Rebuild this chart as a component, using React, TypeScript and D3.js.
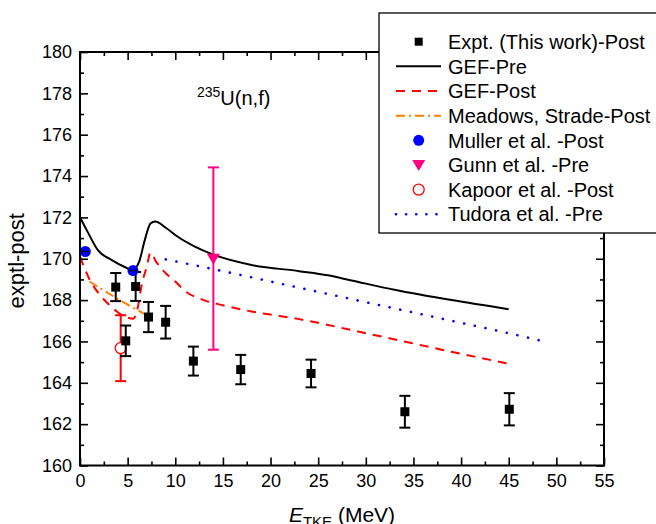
import React, { useEffect, useRef } from "react";
import * as d3 from "d3";

// experiment (this work), post-neutron
const exptX = [3.75, 4.8, 5.84, 7.19, 8.99, 11.9, 16.87, 24.25, 34.1, 45.06];
const exptY = [168.63, 166.03, 168.66, 167.18, 166.93, 165.05, 164.64, 164.45, 162.6, 162.72];
const exptErr = [0.68, 0.74, 0.7, 0.73, 0.79, 0.7, 0.71, 0.67, 0.77, 0.78];

// GEF pre-neutron
const gefPreX = [0, 0.8, 1.9, 3.3, 4.7, 5.5, 6.2, 6.8, 7.4, 7.9, 9, 10.3, 12, 14, 18, 23, 26, 28.5, 33, 39, 45];
const gefPreY = [172.0, 171.3, 170.4, 169.95, 169.6, 169.45, 169.85, 170.9, 171.7, 171.8, 171.5, 171.05, 170.6, 170.2, 169.7, 169.4, 169.2, 168.95, 168.5, 168.0, 167.56];

// GEF post-neutron
const gefPostX = [0, 1, 2, 3, 4, 5, 5.6, 6.0, 6.5, 7.0, 7.4, 8.0, 9, 10, 11, 13, 15, 18, 20, 23, 25, 28, 30, 35, 40, 45];
const gefPostY = [170.1, 169.0, 168.3, 167.8, 167.4, 167.15, 167.1, 167.5, 168.8, 169.6, 170.3, 169.85, 169.3, 168.9, 168.45, 168.0, 167.75, 167.45, 167.3, 167.08, 166.9, 166.6, 166.4, 165.9, 165.4, 164.92];

// Meadows, Strade post-neutron
const meadowsX = [1.0, 4.0, 7.55];
const meadowsY = [168.9, 168.05, 167.13];

// Tudora et al. pre-neutron
const tudoraX = [9, 15, 20, 25, 30, 35, 40, 45, 49];
const tudoraY = [169.97, 169.4, 168.9, 168.4, 167.9, 167.4, 166.9, 166.4, 165.97];

// Muller et al. post
const mullerX = [0.56, 5.56];
const mullerY = [170.35, 169.43];

// Gunn et al. pre
const gunnX = [14.0];
const gunnY = [170.0];
const gunnLo = [165.6];
const gunnHi = [174.42];

// Kapoor et al. post
const kapoorX = [4.27];
const kapoorY = [165.68];
const kapoorLo = [164.08];
const kapoorHi = [167.27];

const xMajor = d3.range(0, 56, 5);
const xMinor = d3.range(2.5, 55, 5);
const yMajor = d3.range(160, 181, 2);
const yMinor = d3.range(161, 180, 2);

const legendItems = [
  "Expt. (This work)-Post",
  "GEF-Pre",
  "GEF-Post",
  "Meadows, Strade-Post",
  "Muller et al. -Post",
  "Gunn et al. -Pre",
  "Kapoor et al. -Post",
  "Tudora et al. -Pre",
];

const FONT = "'Liberation Sans', Arial, Helvetica, sans-serif";

const Chart = () => {
  const svgRef = useRef(null);

  useEffect(() => {
    const width = 656;
    const height = 524;
    const left = 80, right = 604, top = 52, bottom = 465.5;

    const svg = d3.select(svgRef.current);
    svg.selectAll("*").remove();
    svg.attr("width", width).attr("height", height).style("font-family", FONT);

    const x = d3.scaleLinear().domain([0, 55]).range([left, right]);
    const y = d3.scaleLinear().domain([160, 180]).range([bottom, top]);

    const zip = (xs, ys) => xs.map((v, i) => [v, ys[i]]);

    const line = d3
      .line()
      .x((d) => x(d[0]))
      .y((d) => y(d[1]))
      .curve(d3.curveMonotoneX);

    // curves
    svg.append("path")
      .datum(zip(meadowsX, meadowsY))
      .attr("d", line)
      .attr("fill", "none")
      .attr("stroke", "#FF8000")
      .attr("stroke-width", 2)
      .attr("stroke-dasharray", "9,4,2,4");

    svg.append("path")
      .datum(zip(tudoraX, tudoraY))
      .attr("d", line)
      .attr("fill", "none")
      .attr("stroke", "#0000FF")
      .attr("stroke-width", 2.6)
      .attr("stroke-linecap", "round")
      .attr("stroke-dasharray", "0.1,10.8");

    svg.append("path")
      .datum(zip(gefPostX, gefPostY))
      .attr("d", line)
      .attr("fill", "none")
      .attr("stroke", "#FF0000")
      .attr("stroke-width", 2)
      .attr("stroke-dasharray", "9,7");

    svg.append("path")
      .datum(zip(gefPreX, gefPreY))
      .attr("d", line)
      .attr("fill", "none")
      .attr("stroke", "#000")
      .attr("stroke-width", 2);

    // error bar helper
    const vbar = (g, cx, lo, hi, color, cap) => {
      g.append("line").attr("x1", cx).attr("x2", cx).attr("y1", lo).attr("y2", hi)
        .attr("stroke", color).attr("stroke-width", 2);
      [lo, hi].forEach((yy) =>
        g.append("line").attr("x1", cx - cap).attr("x2", cx + cap).attr("y1", yy).attr("y2", yy)
          .attr("stroke", color).attr("stroke-width", 2)
      );
    };

    // Gunn
    const gg = svg.append("g");
    gunnX.forEach((gx, i) => {
      vbar(gg, x(gx), y(gunnLo[i]), y(gunnHi[i]), "#FF0080", 5.5);
      const cx = x(gx), cy = y(gunnY[i]);
      gg.append("path")
        .attr("d", `M${cx - 6.5},${cy - 5} L${cx + 6.5},${cy - 5} L${cx},${cy + 6} Z`)
        .attr("fill", "#FF0080");
    });

    // Kapoor
    const kg = svg.append("g");
    kapoorX.forEach((kx, i) => {
      vbar(kg, x(kx), y(kapoorLo[i]), y(kapoorHi[i]), "#FF0000", 5.5);
      kg.append("circle").attr("cx", x(kx)).attr("cy", y(kapoorY[i])).attr("r", 5.5)
        .attr("fill", "#fff").attr("stroke", "#FF0000").attr("stroke-width", 1.3);
    });

    // Expt
    const eg = svg.append("g");
    exptX.forEach((ex, i) => {
      vbar(eg, x(ex), y(exptY[i] - exptErr[i]), y(exptY[i] + exptErr[i]), "#000", 5.5);
      eg.append("rect").attr("x", x(ex) - 4.5).attr("y", y(exptY[i]) - 4.5)
        .attr("width", 9).attr("height", 9).attr("fill", "#000");
    });

    // Muller
    const mg = svg.append("g");
    mullerX.forEach((mx, i) => {
      const cx = x(mx), cy = y(mullerY[i]);
      mg.append("circle").attr("cx", cx).attr("cy", cy).attr("r", 5.5).attr("fill", "#0000FF");
      mg.append("line").attr("x1", cx - 3).attr("x2", cx + 3).attr("y1", cy).attr("y2", cy)
        .attr("stroke", "#000").attr("stroke-width", 1);
      [cx - 3, cx + 3].forEach((xx) =>
        mg.append("line").attr("x1", xx).attr("x2", xx).attr("y1", cy - 2).attr("y2", cy + 2)
          .attr("stroke", "#000").attr("stroke-width", 1)
      );
    });

    // axes
    const styleAxis = (g) => {
      g.select(".domain").remove();
      g.selectAll("line").attr("stroke", "#000").attr("stroke-width", 1.6);
      g.selectAll("text").attr("font-family", FONT).attr("font-size", 18).attr("fill", "#000");
    };

    svg.append("g").attr("transform", `translate(0,${bottom})`)
      .call(d3.axisBottom(x).tickValues(xMajor).tickSizeInner(-8).tickSizeOuter(0).tickPadding(9))
      .call(styleAxis);
    svg.append("g").attr("transform", `translate(0,${bottom})`)
      .call(d3.axisBottom(x).tickValues(xMinor).tickSizeInner(-4).tickSizeOuter(0).tickFormat(() => ""))
      .call(styleAxis);
    svg.append("g").attr("transform", `translate(0,${top})`)
      .call(d3.axisTop(x).tickValues(xMajor).tickSizeInner(-8).tickSizeOuter(0).tickFormat(() => ""))
      .call(styleAxis);
    svg.append("g").attr("transform", `translate(0,${top})`)
      .call(d3.axisTop(x).tickValues(xMinor).tickSizeInner(-4).tickSizeOuter(0).tickFormat(() => ""))
      .call(styleAxis);
    svg.append("g").attr("transform", `translate(${left},0)`)
      .call(d3.axisLeft(y).tickValues(yMajor).tickSizeInner(-8).tickSizeOuter(0).tickPadding(8))
      .call(styleAxis);
    svg.append("g").attr("transform", `translate(${left},0)`)
      .call(d3.axisLeft(y).tickValues(yMinor).tickSizeInner(-4).tickSizeOuter(0).tickFormat(() => ""))
      .call(styleAxis);
    svg.append("g").attr("transform", `translate(${right},0)`)
      .call(d3.axisRight(y).tickValues(yMajor).tickSizeInner(-8).tickSizeOuter(0).tickFormat(() => ""))
      .call(styleAxis);
    svg.append("g").attr("transform", `translate(${right},0)`)
      .call(d3.axisRight(y).tickValues(yMinor).tickSizeInner(-4).tickSizeOuter(0).tickFormat(() => ""))
      .call(styleAxis);

    svg.append("rect")
      .attr("x", left).attr("y", top)
      .attr("width", right - left).attr("height", bottom - top)
      .attr("fill", "none").attr("stroke", "#000").attr("stroke-width", 2);

    // axis titles
    svg.append("text")
      .attr("transform", `translate(23.5,${(top + bottom) / 2 + 2}) rotate(-90)`)
      .attr("text-anchor", "middle")
      .attr("font-size", 22)
      .text("exptl-post");

    const xt = svg.append("text")
      .attr("x", (left + right) / 2)
      .attr("y", 522)
      .attr("text-anchor", "middle")
      .attr("font-size", 21);
    xt.append("tspan").attr("font-style", "italic").text("E");
    xt.append("tspan").attr("font-size", 15).attr("dy", 5).text("TKE");
    xt.append("tspan").attr("dy", -5).text(" (MeV)");

    // annotation
    const an = svg.append("text").attr("x", 197).attr("y", 105).attr("font-size", 20);
    an.append("tspan").attr("font-size", 14).attr("dy", -8).text("235");
    an.append("tspan").attr("dy", 8).text("U(n,f)");

    // legend
    const lg = svg.append("g");
    lg.append("rect")
      .attr("x", 379).attr("y", 13).attr("width", 300).attr("height", 220)
      .attr("fill", "#fff").attr("stroke", "#000").attr("stroke-width", 1.3);

    const ly = (i) => 41.7 + i * 24.65;
    const lx0 = 396, lx1 = 441, lmx = 418.7;

    legendItems.forEach((t, i) => {
      lg.append("text").attr("x", 448).attr("y", ly(i)).attr("dy", "0.36em")
        .attr("font-size", 20).text(t);
    });

    lg.append("rect").attr("x", lmx - 4).attr("y", ly(0) - 4).attr("width", 8).attr("height", 8).attr("fill", "#000");
    const lline = (i, color, dash, w, cap) =>
      lg.append("line").attr("x1", lx0).attr("x2", lx1).attr("y1", ly(i)).attr("y2", ly(i))
        .attr("stroke", color).attr("stroke-width", w)
        .attr("stroke-dasharray", dash).attr("stroke-linecap", cap);
    lline(1, "#000", null, 2, "butt");
    lline(2, "#FF0000", "9,7", 2, "butt");
    lline(3, "#FF8000", "9,4,2,4", 2, "butt");
    lg.append("circle").attr("cx", lmx).attr("cy", ly(4)).attr("r", 5.5).attr("fill", "#0000FF");
    lg.append("path")
      .attr("d", `M${lmx - 6.5},${ly(5) - 5} L${lmx + 6.5},${ly(5) - 5} L${lmx},${ly(5) + 6} Z`)
      .attr("fill", "#FF0080");
    lg.append("circle").attr("cx", lmx).attr("cy", ly(6)).attr("r", 5.5)
      .attr("fill", "#fff").attr("stroke", "#FF0000").attr("stroke-width", 1.3);
    lline(7, "#0000FF", "0.1,10", 2.6, "round");
  }, []);

  return <svg ref={svgRef} style={{ position: "absolute", left: 0, top: 0 }}></svg>;
};

export default function App() {
  return (
    <div>
      <Chart />
    </div>
  );
}
